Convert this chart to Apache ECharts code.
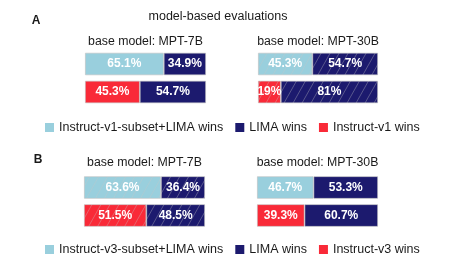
<!DOCTYPE html>
<html><head><meta charset="utf-8">
<script src="https://cdn.jsdelivr.net/npm/echarts@6/dist/echarts.min.js"></script>
<style>html,body{margin:0;padding:0;background:#fff}#c{width:450px;height:275px}</style>
</head><body><div id="c"></div>
<script>
// ---- data ----
const mainTitle = 'model-based evaluations';
const panelLabels = ['A', 'B'];
const panelTitles = ['base model: MPT-7B', 'base model: MPT-30B', 'base model: MPT-7B', 'base model: MPT-30B'];
const rows = ['subset+LIMA vs LIMA', 'Instruct vs LIMA'];
const namesA = ['Instruct-v1-subset+LIMA wins', 'LIMA wins', 'Instruct-v1 wins'];
const namesB = ['Instruct-v3-subset+LIMA wins', 'LIMA wins', 'Instruct-v3 wins'];
// per panel: subset+LIMA wins (row1), Instruct wins (row2), LIMA wins [row1,row2]
const a7bSubset = [65.1, '-'];
const a7bInstruct = ['-', 45.3];
const a7bLima = [34.9, 54.7];
const a30bSubset = [45.3, '-'];
const a30bInstruct = ['-', 19];
const a30bLima = [54.7, 81];
const b7bSubset = [63.6, '-'];
const b7bInstruct = ['-', 51.5];
const b7bLima = [36.4, 48.5];
const b30bSubset = [46.7, '-'];
const b30bInstruct = ['-', 39.3];
const b30bLima = [53.3, 60.7];

// ---- style ----
const C_BLUE = '#99cfdd', C_NAVY = '#1c1a6e', C_RED = '#f92a38';
const FONT = '"Liberation Sans", Arial, Helvetica, sans-serif';
function hatch(color) {
  const w = 9, h = 16;
  const c = document.createElement('canvas'); c.width = w; c.height = h;
  const ctx = c.getContext('2d');
  ctx.fillStyle = color; ctx.fillRect(0, 0, w, h);
  ctx.strokeStyle = 'rgba(200,200,200,0.45)'; ctx.lineWidth = 0.8;
  for (const dx of [-w, 0, w]) { ctx.beginPath(); ctx.moveTo(dx, h); ctx.lineTo(dx + w, 0); ctx.stroke(); }
  return { image: c, repeat: 'repeat' };
}
const panels = [
  { left: 85, width: 121, top: 50, subset: a7bSubset, inst: a7bInstruct, lima: a7bLima, names: namesA, hatched: false },
  { left: 258, width: 120, top: 50, subset: a30bSubset, inst: a30bInstruct, lima: a30bLima, names: namesA, hatched: true },
  { left: 84, width: 121, top: 173.5, subset: b7bSubset, inst: b7bInstruct, lima: b7bLima, names: namesB, hatched: true },
  { left: 257, width: 121, top: 173.5, subset: b30bSubset, inst: b30bInstruct, lima: b30bLima, names: namesB, hatched: false }
];
const grids = [], xAxes = [], yAxes = [], series = [];
const label = { show: true, position: 'inside', formatter: '{c}%', color: '#fff', fontWeight: 'bold', fontSize: 12, fontFamily: FONT };
panels.forEach((p, i) => {
  grids.push({ left: p.left, width: p.width, top: p.top, height: 56 });
  xAxes.push({ type: 'value', gridIndex: i, min: 0, max: 100, show: false });
  yAxes.push({ type: 'category', gridIndex: i, data: rows, inverse: true, show: false });
  const col = c => p.hatched ? hatch(c) : c;
  const base = { type: 'bar', xAxisIndex: i, yAxisIndex: i, stack: 's' + i, barWidth: 22.5, label, silent: true };
  const border = { borderColor: 'rgba(190,190,190,0.7)', borderWidth: 0.8 };
  series.push(Object.assign({}, base, { name: p.names[0], data: p.subset, itemStyle: Object.assign({ color: col(C_BLUE) }, border) }));
  series.push(Object.assign({}, base, { name: p.names[2], data: p.inst, itemStyle: Object.assign({ color: col(C_RED) }, border) }));
  series.push(Object.assign({}, base, { name: p.names[1], data: p.lima, itemStyle: Object.assign({ color: col(C_NAVY) }, border) }));
});
function legend(names, top) {
  return {
    top: top, left: 45, padding: 0, itemWidth: 9, itemHeight: 9, itemGap: 12, icon: 'rect', selectedMode: false,
    textStyle: { fontSize: 12.5, color: '#1a1a1a', fontFamily: FONT },
    data: [
      { name: names[0], itemStyle: { color: C_BLUE, borderWidth: 0 } },
      { name: names[1], itemStyle: { color: C_NAVY, borderWidth: 0 } },
      { name: names[2], itemStyle: { color: C_RED, borderWidth: 0 } }
    ]
  };
}
const txt = (x, y, s, size, bold) => ({ type: 'text', x, y, style: { text: s, fontSize: size, fontWeight: bold ? 'bold' : 'normal', fontFamily: FONT, fill: '#1a1a1a', align: 'center', verticalAlign: 'middle' } });
const chart = echarts.init(document.getElementById('c'), null, { renderer: 'canvas' });
chart.setOption({
  animation: false,
  textStyle: { fontFamily: FONT },
  grid: grids, xAxis: xAxes, yAxis: yAxes, series,
  legend: [legend(namesA, 121), legend(namesB, 243)],
  graphic: [
    txt(218, 17, mainTitle, 12.5, false),
    txt(36, 21, panelLabels[0], 12, true),
    txt(38, 160, panelLabels[1], 12, true),
    txt(145.5, 42, panelTitles[0], 12.3, false),
    txt(318, 42, panelTitles[1], 12.3, false),
    txt(144.5, 163, panelTitles[2], 12.3, false),
    txt(317.5, 163, panelTitles[3], 12.3, false)
  ]
});
</script></body></html>
